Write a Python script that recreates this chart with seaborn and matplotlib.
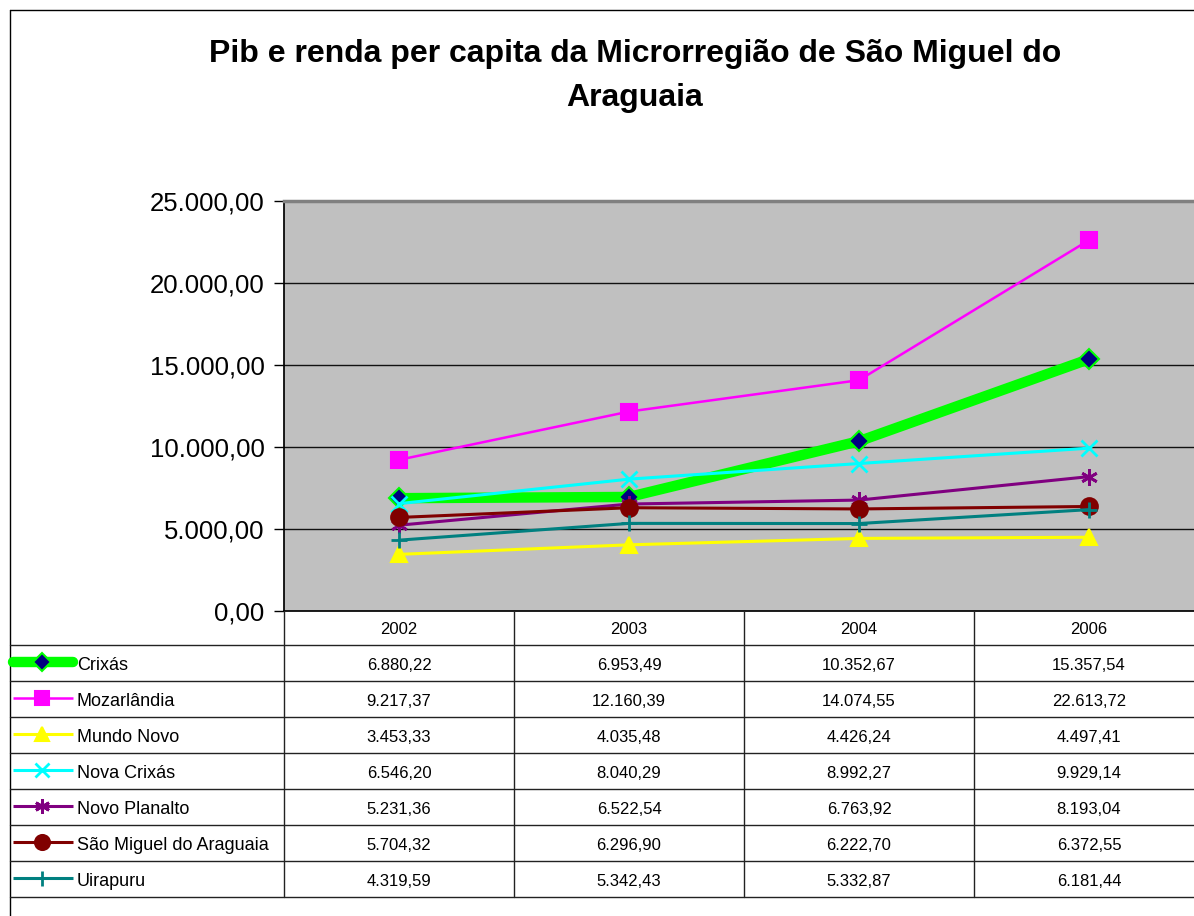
import numpy as np
import pandas as pd
import matplotlib
matplotlib.use("Agg")
import matplotlib.pyplot as plt
import seaborn as sns

# dados
anos = ["2002", "2003", "2004", "2006"]
municipios = ["Crixás", "Mozarlândia", "Mundo Novo", "Nova Crixás",
              "Novo Planalto", "São Miguel do Araguaia", "Uirapuru"]
crixas = [6880.22, 6953.49, 10352.67, 15357.54]
mozarlandia = [9217.37, 12160.39, 14074.55, 22613.72]
mundo_novo = [3453.33, 4035.48, 4426.24, 4497.41]
nova_crixas = [6546.20, 8040.29, 8992.27, 9929.14]
novo_planalto = [5231.36, 6522.54, 6763.92, 8193.04]
sao_miguel = [5704.32, 6296.90, 6222.70, 6372.55]
uirapuru = [4319.59, 5342.43, 5332.87, 6181.44]
valores = [crixas, mozarlandia, mundo_novo, nova_crixas,
           novo_planalto, sao_miguel, uirapuru]
yticks = [0, 5000, 10000, 15000, 20000, 25000]

# estilo de cada série (cor, marcador, espessura, tamanho, cor interna)
estilos = [
    ("#00FF00", "D", 7.5, 10, "#000080"),
    ("#FF00FF", "s", 1.8, 11, "#FF00FF"),
    ("#FFFF00", "^", 2.2, 11, "#FFFF00"),
    ("#00FFFF", "x", 2.2, 11, "#00FFFF"),
    ("#800080", (6, 2, 0), 2.2, 12, "#800080"),
    ("#800000", "o", 2.2, 12, "#800000"),
    ("#008080", "+", 2.2, 12, "#008080"),
]


def fmt(v):
    s = f"{v:,.2f}"
    return s.replace(",", "#").replace(".", ",").replace("#", ".")


sns.set_theme(style="white")
plt.rcParams["font.family"] = ["Liberation Sans", "DejaVu Sans"]
plt.rcParams["text.color"] = "black"
plt.rcParams["ytick.color"] = "black"
plt.rcParams["xtick.color"] = "black"

W, H = 1194, 916
fig = plt.figure(figsize=(W / 100, H / 100), dpi=100)

# área do gráfico (em pixels)
px_left, px_top, px_bottom = 284, 201, 611
col_w = 230
n = len(anos)
ax = fig.add_axes([px_left / W, 1 - px_bottom / H, n * col_w / W, (px_bottom - px_top) / H])
ax.set_facecolor("#C0C0C0")

xpos = np.arange(n)
for nome, vals, (cor, mk, lw, ms, mfc) in zip(municipios, valores, estilos):
    sns.lineplot(x=xpos, y=vals, ax=ax, color=cor, lw=lw, marker=mk,
                 markersize=ms, markerfacecolor=mfc, markeredgecolor=cor,
                 markeredgewidth=2 if mk in ("x", "+", (6, 2, 0)) else 1.5)

ax.set_xlim(-0.5, n - 0.5)
ax.set_ylim(0, 25000)
ax.set_yticks(yticks)
ax.set_yticklabels([fmt(v) for v in yticks], fontsize=18.5)
ax.set_xticks([])
for v in yticks[1:-1]:
    ax.axhline(v, color="#111111", lw=1.0, zorder=0.5)
ax.spines["right"].set_visible(False)
ax.spines["top"].set_color("#808080")
ax.spines["top"].set_linewidth(2.5)
ax.spines["left"].set_color("#000000")
ax.spines["bottom"].set_color("#000000")
ax.tick_params(axis="y", length=7, width=1, color="#000000", direction="out",
               pad=7, left=True, labelcolor="black")
ax.set_xlabel("")
ax.set_ylabel("")

# camada em pixels para moldura e tabela
tab = fig.add_axes([0, 0, 1, 1], facecolor="none")
tab.set_xlim(0, W)
tab.set_ylim(H, 0)
tab.axis("off")

frame = 10
tab.plot([frame, frame], [frame, H], color="black", lw=1)
tab.plot([frame, W], [frame, frame], color="black", lw=1)

row_h = 36
head_bot = 645
n_rows = len(municipios)
right = px_left + n * col_w
linhas = [head_bot + i * row_h for i in range(n_rows + 1)]
for y in linhas:
    tab.plot([frame, right], [y, y], color="#222222", lw=1)
for i in range(n + 1):
    x = px_left + i * col_w
    tab.plot([x, x], [px_bottom, linhas[-1]], color="#222222", lw=1)

for i, ano in enumerate(anos):
    tab.text(px_left + (i + 0.5) * col_w, (px_bottom + head_bot) / 2 + 2, ano,
             ha="center", va="center", fontsize=12, color="black")

for r, (nome, vals, (cor, mk, lw, ms, mfc)) in enumerate(zip(municipios, valores, estilos)):
    yc = head_bot + (r + 0.5) * row_h + 2
    tab.plot([13, 42, 73], [yc - 3, yc - 3, yc - 3], color=cor, lw=lw, marker=mk,
             markevery=[1], markersize=ms * 0.9, markerfacecolor=mfc,
             markeredgecolor=cor, markeredgewidth=2 if mk in ("x", "+", (6, 2, 0)) else 1.5,
             solid_capstyle="round" if lw > 5 else "butt")
    tab.text(77, yc, nome, ha="left", va="center", fontsize=13, color="black")
    for i, v in enumerate(vals):
        tab.text(px_left + (i + 0.5) * col_w, yc, fmt(v),
                 ha="center", va="center", fontsize=12, color="black")

fig.text(635 / W, 1 - 76 / H, "Pib e renda per capita da Microrregião de São Miguel do\nAraguaia",
         ha="center", va="center", fontsize=23, fontweight="bold", linespacing=1.65,
         color="black")

fig.savefig("out.png", dpi=100)
